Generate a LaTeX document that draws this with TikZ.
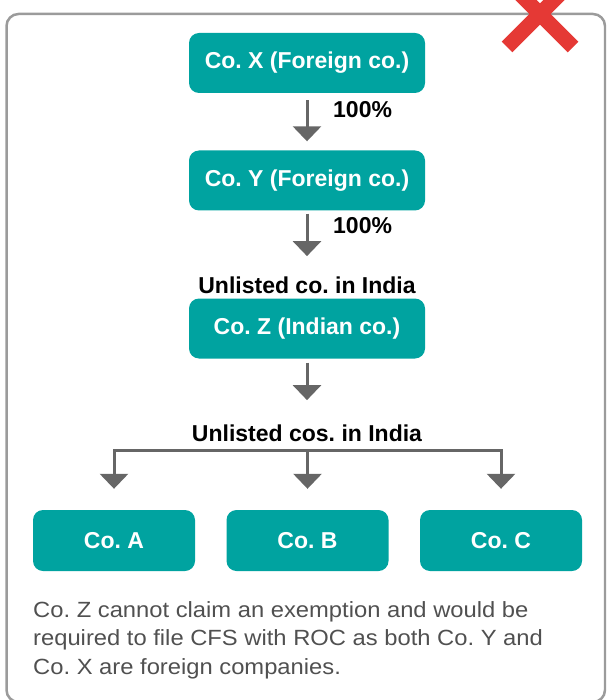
\documentclass[tikz,border=0pt]{standalone}
\usepackage{fontspec}
\setmainfont{Liberation Sans}
\newfontfamily\notefont[FakeStretch=1.08]{Liberation Sans}
\usetikzlibrary{arrows.meta}
\frenchspacing
\definecolor{cobox}{HTML}{00A3A0}
\definecolor{flowgray}{HTML}{666666}
\definecolor{framegray}{HTML}{9B9B9B}
\definecolor{crossred}{HTML}{E53935}
\definecolor{notegray}{HTML}{505050}
\tikzset{>={Triangle[width=28pt,length=15pt]}}
\tikzset{
  cobig/.style={fill=cobox, rounded corners=10pt, minimum width=236pt, minimum height=60pt,
    text=white, font=\fontsize{23}{27}\selectfont\bfseries},
  cosmall/.style={cobig, minimum width=162pt, minimum height=61pt},
  lbl/.style={inner sep=0pt, font=\fontsize{23}{27}\selectfont\bfseries},
  flow/.style={->, draw=flowgray, line width=3pt}
}

\begin{document}
\begin{tikzpicture}[x=1pt,y=-1pt]
  \useasboundingbox (0,0) rectangle (606,700);
  \clip (0,0) rectangle (606,700);

  % Frame
  \draw[framegray, line width=2.5pt, rounded corners=12pt] (6.5,14) rectangle (605,702);

  % Cross
  \draw[crossred, line width=15pt] (507,47) -- (590,-36);
  \draw[crossred, line width=15pt] (573,47) -- (490,-36);

  % Companies
  \node[cobig] (cox) at (307,63) {Co. X (Foreign co.)};
  \node[cobig] (coy) at (307,180.5) {Co. Y (Foreign co.)};
  \node[cobig] (coz) at (307,328.5) {Co. Z (Indian co.)};
  \node[cosmall] (coa) at (114,540.5) {Co. A};
  \node[cosmall] (cob) at (307.5,540.5) {Co. B};
  \node[cosmall] (coc) at (501,540.5) {Co. C};

  % Labels
  \node[lbl, anchor=base west] (pctxy) at (333,118) {100\%};
  \node[lbl, anchor=base west] (pctyz) at (333,234) {100\%};
  \node[lbl, anchor=base] (lblco) at (307,293) {Unlisted co. in India};
  \node[lbl, anchor=base] (lblcos) at (307,441) {Unlisted cos. in India};

  % Arrows
  \draw[flow, shorten <=7pt, shorten >=9pt] (cox) -- (coy);
  \draw[flow, shorten <=3pt, shorten >=20pt] (coy) -- (lblco);
  \draw[flow, shorten <=4pt, shorten >=24pt] (coz) -- (lblcos);
  \coordinate (bar) at (307.5,450);
  \draw[flow, shorten >=21pt] (bar) -| (coa);
  \draw[flow, shorten >=21pt] (bar) -| (coc);
  \draw[flow, shorten >=21pt] (bar) -- (cob);

  % Note
  \node[anchor=north west, inner sep=0pt, align=left, text=notegray,
    font=\notefont\fontsize{22}{28.5}\selectfont] (note) at (33,601)
    {Co. Z cannot claim an exemption and would be\\required to file CFS with ROC as both Co. Y and\\Co. X are foreign companies.};
\end{tikzpicture}
\end{document}
